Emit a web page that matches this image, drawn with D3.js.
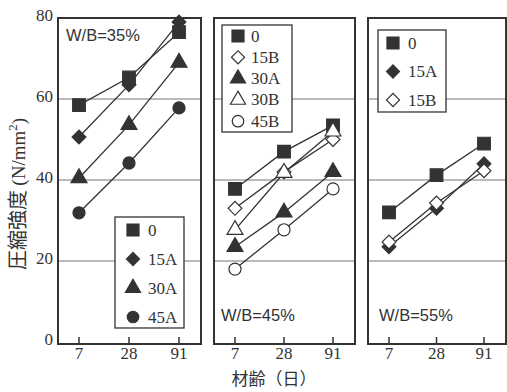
<!DOCTYPE html>
<meta charset="utf-8">
<style>
    body { margin: 0; background: #fff; }
    .tick-label { font: 17px "Liberation Serif", serif; fill: #333; }
    .legend text { font: 17px "Liberation Serif", serif; fill: #333; }
    .wb { font: 16.5px "Liberation Sans", "DejaVu Sans", sans-serif; fill: #333; }
    .grid { stroke: #777; stroke-width: 1px; }
    .frame { fill: none; stroke: #333; stroke-width: 2px; }
    .series { fill: none; stroke: #333; stroke-width: 1.3px; }
</style>
<body>
<script src="https://cdn.jsdelivr.net/npm/d3@7"></script>
<script>
    // ages (days) and strength ticks
    var ages = ["7", "28", "91"];
    var yTicks = [0, 20, 40, 60, 80];
    var gridTicks = [20, 40, 60];

    // W/B = 35%
    var wb35Names = ["0", "15A", "30A", "45A"];
    var wb35_0   = [58.5, 65.3, 76.5];
    var wb35_15A = [50.6, 63.5, 79.0];
    var wb35_30A = [40.5, 53.6, 69.0];
    var wb35_45A = [31.9, 44.2, 57.8];

    // W/B = 45%
    var wb45Names = ["0", "15B", "30A", "30B", "45B"];
    var wb45_0   = [37.8, 47.0, 53.5];
    var wb45_15B = [33.0, 42.0, 50.0];
    var wb45_30A = [23.5, 32.0, 42.0];
    var wb45_30B = [27.7, 41.8, 52.0];
    var wb45_45B = [18.0, 27.7, 37.8];

    // W/B = 55%
    var wb55Names = ["0", "15A", "15B"];
    var wb55_0   = [32.0, 41.2, 49.0];
    var wb55_15A = [23.5, 33.0, 44.0];
    var wb55_15B = [24.7, 34.3, 42.3];

    var panels = [
        { label: "W/B=35%", x0: 58, x1: 201, names: wb35Names,
          values: [wb35_0, wb35_15A, wb35_30A, wb35_45A],
          labelPos: [66, 41], legend: { x: 115, y: 217, w: 69, h: 111, mx: 133, tx: 148, step: 29, first: 230 } },
        { label: "W/B=45%", x0: 214, x1: 355, names: wb45Names,
          values: [wb45_0, wb45_15B, wb45_30A, wb45_30B, wb45_45B],
          labelPos: [221, 321], legend: { x: 222, y: 25, w: 70, h: 107, mx: 238, tx: 251, step: 21.3, first: 36 } },
        { label: "W/B=55%", x0: 368, x1: 506, names: wb55Names,
          values: [wb55_0, wb55_15A, wb55_15B],
          labelPos: [379, 321], legend: { x: 378, y: 30, w: 68, h: 82, mx: 393, tx: 408, step: 28.5, first: 43 } }
    ];

    // marker style per mix name
    var markerStyle = {
        "0":   { type: d3.symbolSquare,   filled: true,  size: 160, rot: 0 },
        "15A": { type: d3.symbolSquare,   filled: true,  size: 95,  rot: 45 },
        "15B": { type: d3.symbolSquare,   filled: false, size: 95,  rot: 45 },
        "30A": { type: d3.symbolTriangle, filled: true,  size: 110, rot: 0 },
        "30B": { type: d3.symbolTriangle, filled: false, size: 110, rot: 0 },
        "45A": { type: d3.symbolCircle,   filled: true,  size: 115, rot: 0 },
        "45B": { type: d3.symbolCircle,   filled: false, size: 115, rot: 0 }
    };

    var width = 507, height = 392;
    var svg = d3.select("body").append("svg")
        .attr("width", width)
        .attr("height", height);

    var y = d3.scaleLinear().domain([0, 80]).range([342, 18]);

    function drawMarker(g, name, cx, cy, scale) {
        var s = markerStyle[name];
        g.append("path")
            .attr("d", d3.symbol().type(s.type).size(s.size * (scale || 1))())
            .attr("transform", "translate(" + cx + "," + cy + ") rotate(" + s.rot + ")")
            .attr("fill", s.filled ? "#333" : "#fff")
            .attr("stroke", "#333")
            .attr("stroke-width", 1.2);
    }

    // y tick labels
    svg.selectAll(".ylab")
        .data(yTicks)
        .enter().append("text")
        .attr("class", "tick-label")
        .attr("x", 53)
        .attr("y", function(d) { return y(d) + 3; })
        .attr("text-anchor", "end")
        .text(function(d) { return d; });

    panels.forEach(function(p) {
        var g = svg.append("g");
        var x = d3.scalePoint().domain(ages).range([p.x0 + 21, p.x1 - 22]);

        // grid lines
        g.selectAll(".grid")
            .data(gridTicks)
            .enter().append("line")
            .attr("class", "grid")
            .attr("x1", p.x0).attr("x2", p.x1)
            .attr("y1", function(d) { return y(d); })
            .attr("y2", function(d) { return y(d); });

        // bottom ticks and labels
        ages.forEach(function(a) {
            g.append("line")
                .attr("x1", x(a)).attr("x2", x(a))
                .attr("y1", 344).attr("y2", 337)
                .attr("stroke", "#333").attr("stroke-width", 1.5);
            g.append("text")
                .attr("class", "tick-label")
                .attr("x", x(a))
                .attr("y", 359)
                .attr("text-anchor", "middle")
                .text(a);
        });

        // lines
        var line = d3.line()
            .x(function(d, i) { return x(ages[i]); })
            .y(function(d) { return y(d); });
        p.values.forEach(function(v) {
            g.append("path").attr("class", "series").attr("d", line(v));
        });

        // markers
        p.values.forEach(function(v, k) {
            v.forEach(function(d, i) {
                drawMarker(g, p.names[k], x(ages[i]), y(d));
            });
        });

        // legend
        var L = p.legend;
        var lg = g.append("g").attr("class", "legend");
        lg.append("rect")
            .attr("x", L.x).attr("y", L.y)
            .attr("width", L.w).attr("height", L.h)
            .attr("fill", "#fff").attr("stroke", "#333").attr("stroke-width", 1.3);
        p.names.forEach(function(n, i) {
            var cy = L.first + i * L.step;
            drawMarker(lg, n, L.mx, cy, 0.9);
            lg.append("text")
                .attr("x", L.tx)
                .attr("y", cy + 5.5)
                .text(n);
        });

        // W/B label
        g.append("text")
            .attr("class", "wb")
            .attr("x", p.labelPos[0])
            .attr("y", p.labelPos[1])
            .text(p.label);

        // frame
        g.append("rect")
            .attr("class", "frame")
            .attr("x", p.x0).attr("y", 18)
            .attr("width", p.x1 - p.x0).attr("height", 326);
    });

    // axis titles
    var yt = svg.append("text")
        .attr("transform", "translate(25,194) rotate(-90)")
        .attr("text-anchor", "middle")
        .attr("fill", "#333");
    yt.append("tspan")
        .style("font", "20px 'Noto Sans CJK JP', sans-serif")
        .text("圧縮強度 ");
    yt.append("tspan")
        .style("font", "19px 'Liberation Serif', serif")
        .text("(N/mm");
    yt.append("tspan")
        .style("font", "13px 'Liberation Serif', serif")
        .attr("dy", -8)
        .text("2");
    yt.append("tspan")
        .style("font", "19px 'Liberation Serif', serif")
        .attr("dy", 8)
        .text(")");

    svg.append("text")
        .attr("x", 274)
        .attr("y", 385)
        .attr("text-anchor", "middle")
        .attr("fill", "#333")
        .style("font", "17px 'Noto Sans CJK JP', sans-serif")
        .text("材齢（日）");
</script>
</body>
